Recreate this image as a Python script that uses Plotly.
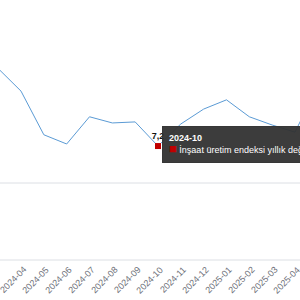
import plotly.graph_objects as go

months = ['2024-03', '2024-04', '2024-05', '2024-06', '2024-07', '2024-08', '2024-09',
          '2024-10', '2024-11', '2024-12', '2025-01', '2025-02', '2025-03', '2025-04', '2025-05']
values = [22.3, 17.9, 9.4, 7.6, 12.9, 11.7, 11.9, 7.2, 11.5, 14.4, 16.2, 12.9, 11.3, 9.9, 18.9]
grid_values = [-15, 0]
series_name = 'İnşaat üretim endeksi yıllık değişimi'
hl_month = '2024-10'
hl_value = 7.2
hl_label = '7,2'

fig = go.Figure()

for g in grid_values:
    fig.add_hline(y=g, line=dict(color='#DCDFE4', width=1), layer='below')

fig.add_trace(go.Scatter(x=months, y=values, mode='lines',
                         line=dict(color='#5B9BD5', width=1), showlegend=False))
fig.add_trace(go.Scatter(x=[hl_month], y=[hl_value], mode='markers+text',
                         marker=dict(symbol='square', size=6, color='#C00000'),
                         text=['<b>' + hl_label + '</b>'], textposition='top center',
                         textfont=dict(size=9, color='#111', family='Liberation Sans'),
                         showlegend=False))

# rotated category labels (centre-anchored so rotation does not move them)
for m in months:
    fig.add_annotation(x=m, y=0, xref='x', yref='paper', text=m, showarrow=False,
                       textangle=-45, xanchor='center', yanchor='middle',
                       xshift=-8, yshift=-17, borderpad=0,
                       font=dict(size=9, color='#6E7079', family='Liberation Sans'))

fig.add_annotation(x=hl_month, y=hl_value, xref='x', yref='y',
                   text='<b>' + hl_month + '</b><br><span style="color:#C00000;font-size:13px">■</span> ' + series_name,
                   showarrow=False, xanchor='left', yanchor='top', align='left',
                   xshift=4, yshift=20,
                   bgcolor='rgba(50,50,50,0.95)', bordercolor='rgba(50,50,50,0.95)',
                   borderpad=6, font=dict(color='white', size=9, family='Liberation Sans'))

fig.update_layout(
    width=300, height=300,
    margin=dict(l=0, r=0, t=0, b=37, autoexpand=False),
    paper_bgcolor='white', plot_bgcolor='white',
    xaxis=dict(type='category', range=[0.08, 13.22], showgrid=False, zeroline=False,
               showline=False, automargin=False, showticklabels=False, ticks=''),
    yaxis=dict(range=[-15.584, 35.65], showgrid=False, showticklabels=False,
               zeroline=False, automargin=False, ticks=''),
)

fig.write_html('out.html')
